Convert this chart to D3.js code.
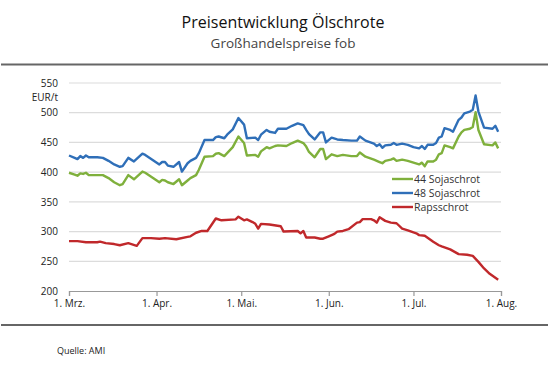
<!DOCTYPE html>
<html>
<head>
  <meta charset="utf-8">
  <title>Preisentwicklung Ölschrote</title>
  <script src="https://cdn.jsdelivr.net/npm/d3@7/dist/d3.min.js"></script>
  <style>
    body { margin: 0; background: #fff; }
    svg text { font-family: 'Open Sans', sans-serif; }
  </style>
</head>
<body>
  <svg id="chart" width="549" height="375"></svg>

  <script>
  // Soja: gemeinsame Tage
  var sojaDates = ['03-01','03-03','03-04','03-05','03-06','03-07','03-08','03-11','03-13','03-15',
    '03-17','03-19','03-20','03-22','03-24','03-27','03-28','04-02','04-03','04-04',
    '04-05','04-07','04-09','04-10','04-12','04-13','04-15','04-16','04-18','04-21',
    '04-22','04-23','04-25','04-26','04-28','04-30','05-02','05-03','05-06','05-07',
    '05-08','05-10','05-11','05-13','05-14','05-17','05-19','05-21','05-23','05-24',
    '05-25','05-27','05-29','05-30','05-31','06-02','06-04','06-06','06-09','06-11',
    '06-12','06-14','06-17','06-18','06-19','06-20','06-21','06-23','06-24','06-25',
    '06-27','06-29','07-01','07-03','07-04','07-05','07-06','07-08','07-09','07-10',
    '07-11','07-12','07-14','07-15','07-17','07-18','07-19','07-21','07-22','07-23',
    '07-24','07-26','07-29','07-30','07-31'];

  var soja48 = [428,424,422,427,424,428,425,425,424,419,
    413,409,410,424,418,431,429,413,417,417,
    411,409,417,401,415,419,424,432,454,454,
    459,460,457,463,472,491,480,457,458,454,
    463,471,468,466,473,473,478,482,479,471,
    464,455,467,467,450,458,455,454,453,453,
    460,453,448,444,447,441,445,446,449,446,
    448,446,442,440,444,439,446,446,449,458,
    460,474,471,468,488,492,499,502,505,529,
    502,475,473,478,468];

  var soja44 = [399,396,394,398,397,399,395,395,395,390,
    383,378,380,395,388,401,399,383,387,386,
    383,380,388,378,386,390,395,404,426,427,
    431,432,427,432,442,460,449,428,429,426,
    435,442,440,444,445,444,449,453,449,443,
    434,425,439,439,422,430,427,429,427,427,
    433,426,421,419,417,415,419,421,423,419,
    421,419,416,413,416,410,418,418,421,430,
    432,445,442,440,460,467,471,473,476,501,
    471,447,445,450,440];

  var rapsDates = ['03-01','03-04','03-07','03-11','03-12','03-14','03-17','03-19','03-22','03-25',
    '03-27','03-30','04-02','04-04','04-08','04-12','04-13','04-15','04-17','04-19',
    '04-22','04-24','04-29','04-30','05-02','05-03','05-05','05-06','05-07','05-08',
    '05-11','05-15','05-16','05-21','05-22','05-23','05-24','05-27','05-29','05-30',
    '06-01','06-03','06-04','06-06','06-08','06-11','06-12','06-13','06-16','06-17',
    '06-18','06-19','06-21','06-23','06-25','06-27','06-29','07-01','07-02','07-03',
    '07-05','07-08','07-10','07-11','07-14','07-17','07-20','07-22','07-24','07-26',
    '07-28','07-31'];

  var raps = [284,284,282,282,283,280.5,279,277,280.5,276,
    289,289,288,289,287,291,292,298,301,301,
    322,319,320.5,325,319,320.5,316,313,305,313,
    312,309,300,301,297,301,290,290,288,288,
    292,296,300,301,304,315,316,321,321,319,
    315,324,318,315,314,305,302,298.5,297,294,
    293,283,277,275,270,262,261,259,249,238,
    229,219];

  var yTicks = [200, 250, 300, 350, 400, 450, 500, 550];
  var monthTicks = ['03-01','04-01','05-01','06-01','07-01','08-01'];
  var monthLabels = ['1. Mrz.','1. Apr.','1. Mai.','1. Jun.','1. Jul.','1. Aug.'];
  var seriesNames = ['44 Sojaschrot', '48 Sojaschrot', 'Rapsschrot'];
  var seriesColors = ['#7fb03c', '#2f6fb8', '#c0282b'];

  var parseDay = d3.timeParse('%Y-%m-%d');
  function day(s) { return parseDay('2021-' + s); }

  var svg = d3.select('#chart'),
    W = +svg.attr('width'),
    margin = { top: 83, right: 48, bottom: 84, left: 69 },
    width = W - margin.left - margin.right,
    height = +svg.attr('height') - margin.top - margin.bottom;

  // Titel
  svg.append('text')
    .attr('x', 283).attr('y', 28)
    .attr('text-anchor', 'middle')
    .attr('font-size', 16)
    .attr('fill', '#111')
    .text('Preisentwicklung Ölschrote');
  svg.append('text')
    .attr('x', 283).attr('y', 48)
    .attr('text-anchor', 'middle')
    .attr('font-size', 13.5)
    .attr('fill', '#444')
    .text('Großhandelspreise fob');

  svg.append('line')
    .attr('x1', 1).attr('x2', W - 1).attr('y1', 64.5).attr('y2', 64.5)
    .attr('stroke', '#666').attr('stroke-width', 2);
  svg.append('line')
    .attr('x1', 1).attr('x2', W - 1).attr('y1', 325).attr('y2', 325)
    .attr('stroke', '#666').attr('stroke-width', 2);

  svg.append('text')
    .attr('x', 57).attr('y', 354)
    .attr('font-size', 9)
    .attr('fill', '#222')
    .text('Quelle: AMI');

  var g = svg.append('g').attr('transform', 'translate(' + margin.left + ',' + margin.top + ')');

  var x = d3.scaleTime()
    .domain([day('03-01'), day('08-01')])
    .range([0, width]);

  var y = d3.scaleLinear()
    .domain([200, 550])
    .range([height, 0]);

  // Gitterlinien
  g.append('g')
    .selectAll('line')
    .data(yTicks.slice(1))
    .join('line')
    .attr('x1', 0).attr('x2', width)
    .attr('y1', function(d) { return y(d); })
    .attr('y2', function(d) { return y(d); })
    .attr('stroke', '#dcdcdc')
    .attr('stroke-width', 1.2);

  // y-Achse
  var yAxis = g.append('g')
    .call(d3.axisLeft(y).tickValues(yTicks).tickSize(0).tickPadding(11));
  yAxis.select('.domain').remove();
  yAxis.selectAll('text')
    .attr('font-size', 10)
    .attr('fill', '#222')
    .attr('font-family', "'Open Sans', sans-serif");

  g.append('text')
    .attr('x', -11).attr('y', y(525))
    .attr('dy', '0.35em')
    .attr('text-anchor', 'end')
    .attr('font-size', 10)
    .attr('fill', '#222')
    .text('EUR/t');

  // x-Achse
  var xAxis = g.append('g')
    .attr('transform', 'translate(0,' + height + ')')
    .call(d3.axisBottom(x)
      .tickValues(monthTicks.map(day))
      .tickFormat(function(d, i) { return monthLabels[i]; })
      .tickSizeOuter(0)
      .tickSize(5)
      .tickPadding(4));
  xAxis.select('.domain').attr('stroke', '#999').attr('stroke-width', 1.2);
  xAxis.selectAll('.tick line').attr('stroke', '#999').attr('stroke-width', 1.2);
  xAxis.selectAll('text')
    .attr('font-size', 10)
    .attr('fill', '#222')
    .attr('font-family', "'Open Sans', sans-serif");

  var line = d3.line()
    .x(function(d) { return x(d.date); })
    .y(function(d) { return y(d.value); });

  function pairs(dates, values) {
    return dates.map(function(s, i) { return { date: day(s), value: values[i] }; });
  }

  var series = [
    pairs(rapsDates, raps),
    pairs(sojaDates, soja44),
    pairs(sojaDates, soja48)
  ];
  var colors = [seriesColors[2], seriesColors[0], seriesColors[1]];

  g.selectAll('.series')
    .data(series)
    .join('path')
    .attr('class', 'series')
    .attr('fill', 'none')
    .attr('stroke', function(d, i) { return colors[i]; })
    .attr('stroke-width', 2.4)
    .attr('stroke-linejoin', 'round')
    .attr('d', line);

  // Legende
  var legend = svg.append('g').attr('transform', 'translate(392,179)');
  var item = legend.selectAll('g')
    .data(seriesNames)
    .join('g')
    .attr('transform', function(d, i) { return 'translate(0,' + (i * 14) + ')'; });
  item.append('line')
    .attr('x1', 0).attr('x2', 21)
    .attr('stroke', function(d, i) { return seriesColors[i]; })
    .attr('stroke-width', 2.4);
  item.append('text')
    .attr('x', 22).attr('dy', '0.35em')
    .attr('font-size', 10.5)
    .attr('fill', '#333')
    .text(function(d) { return d; });
  </script>
</body>
</html>
